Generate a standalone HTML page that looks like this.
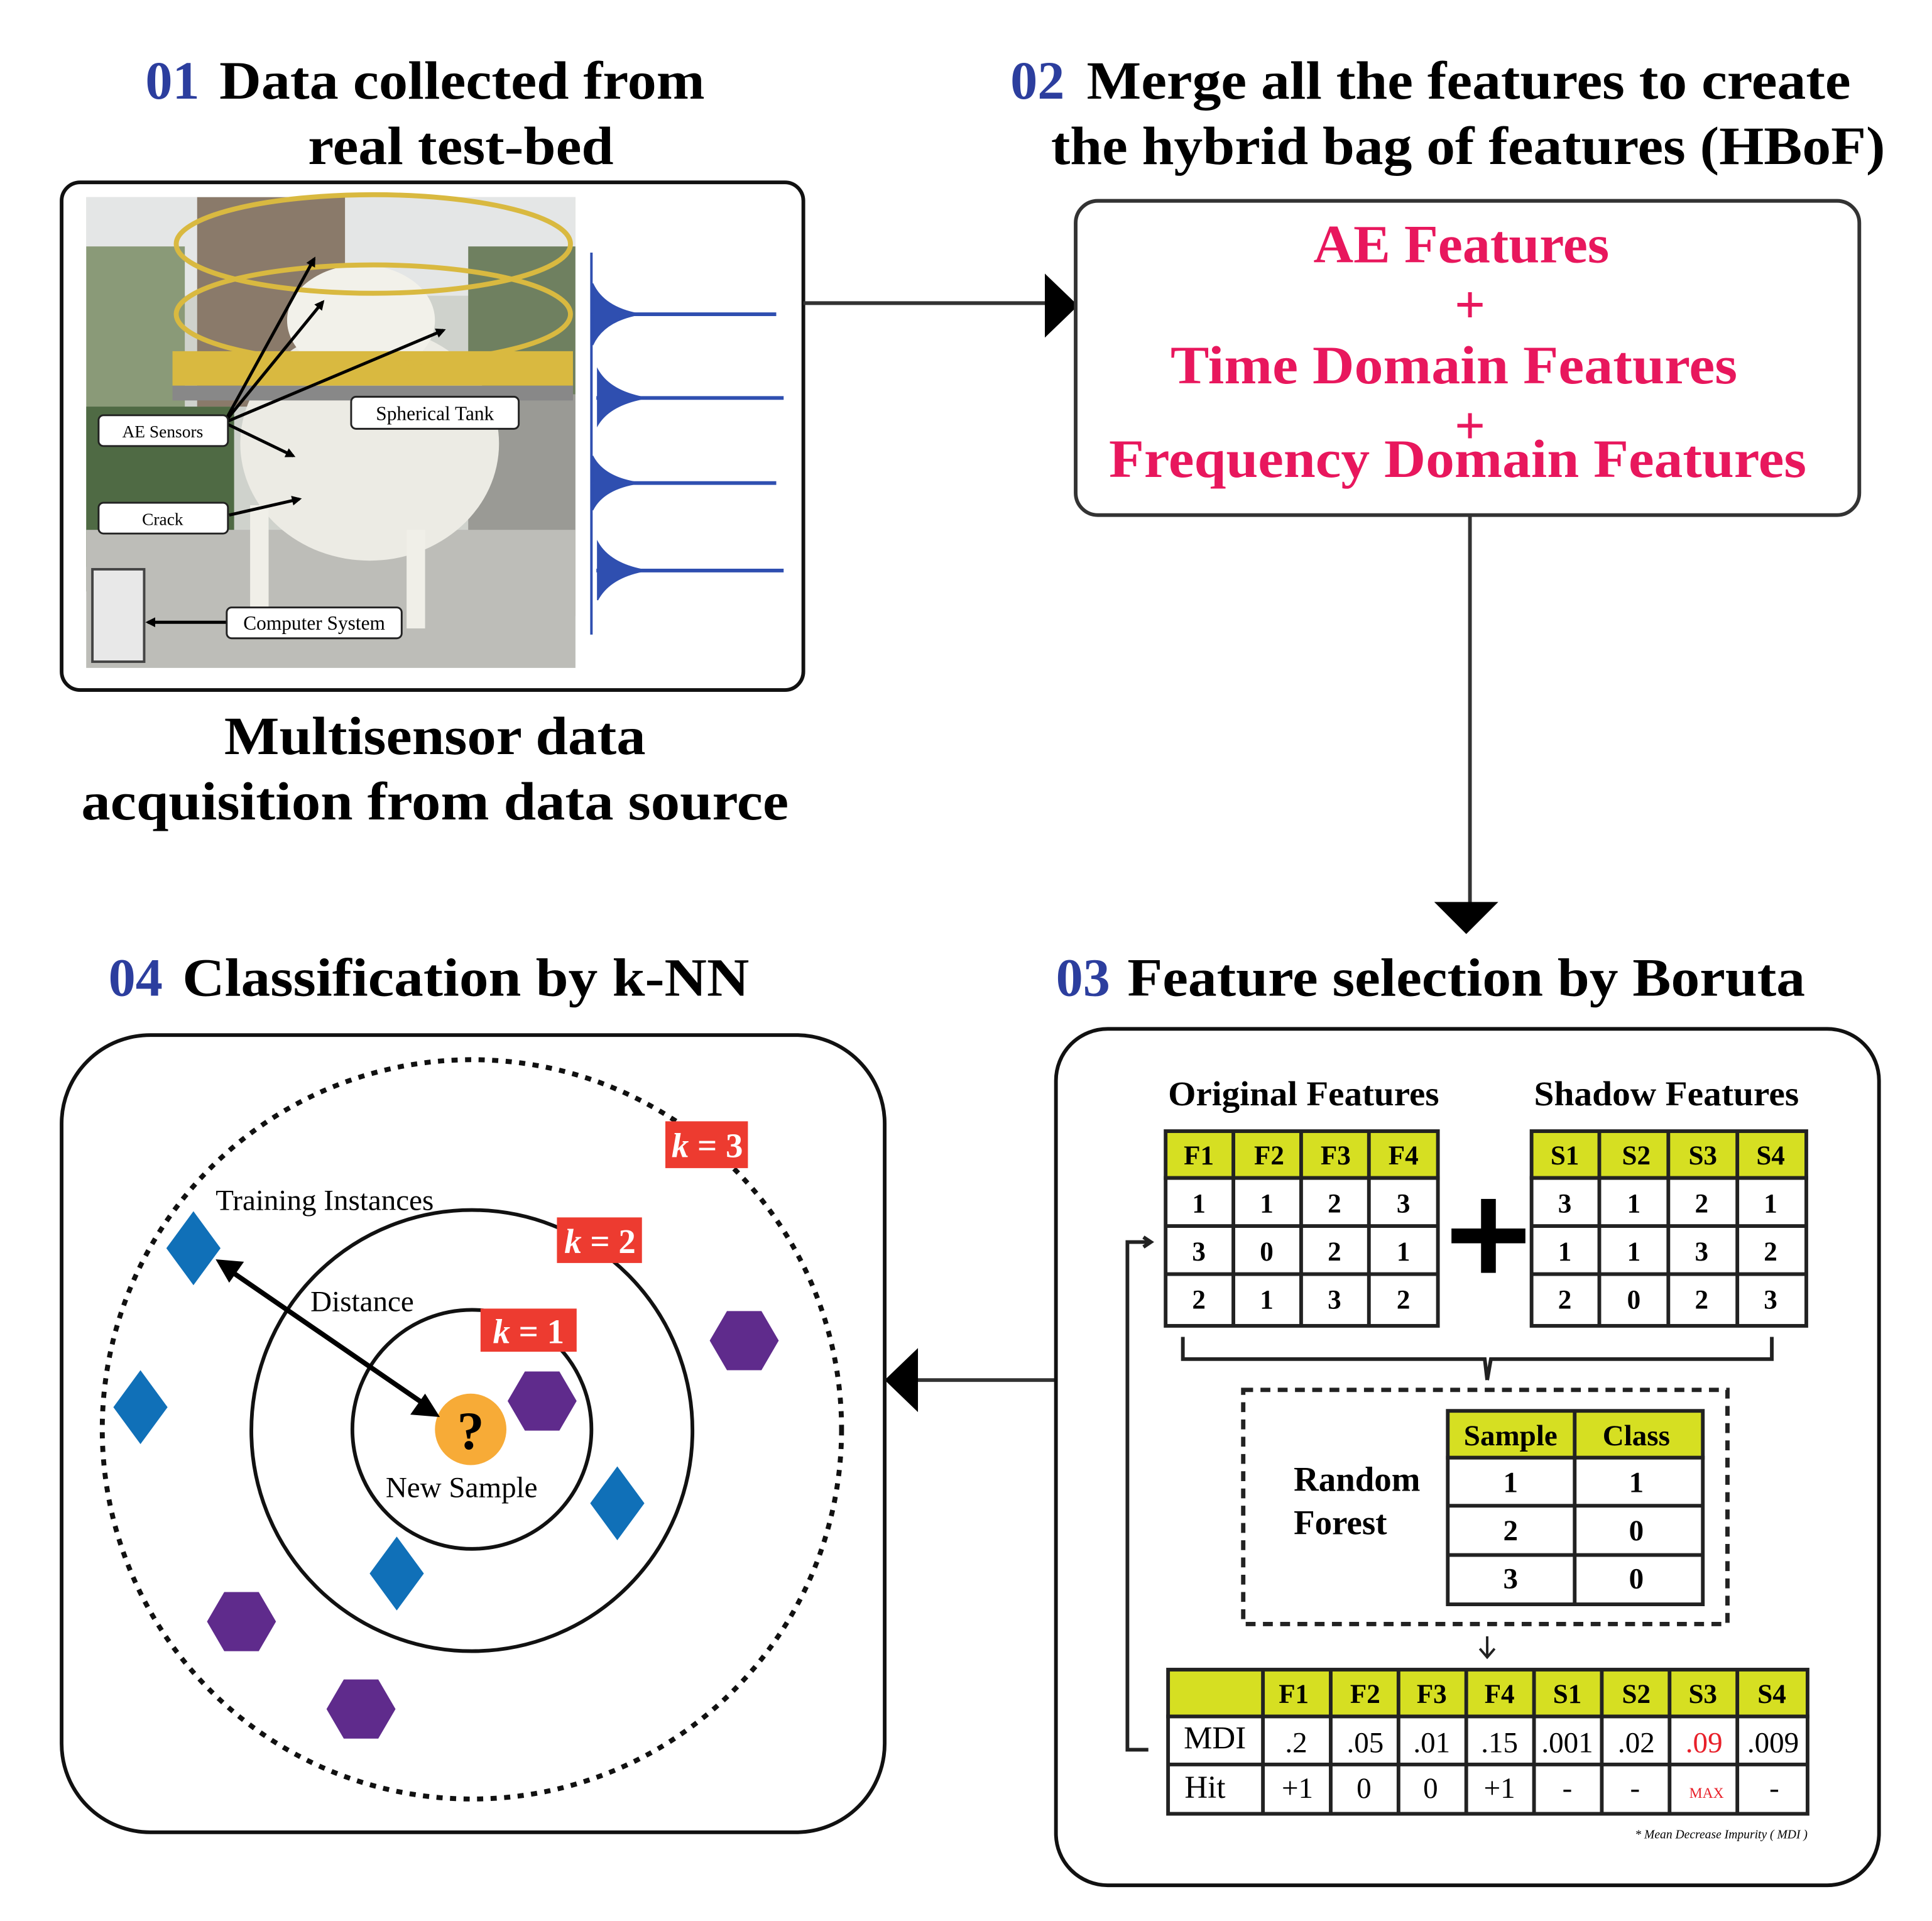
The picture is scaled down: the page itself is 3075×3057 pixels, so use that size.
<!DOCTYPE html>
<html><head><meta charset="utf-8"><style>
html,body{margin:0;padding:0;background:#fff;}
svg{display:block;}
text{font-family:"Liberation Serif",serif;}
</style></head><body>
<svg width="3075" height="3057" viewBox="0 0 1568 1559" preserveAspectRatio="none" xmlns="http://www.w3.org/2000/svg">
<defs><marker id="ah" markerWidth="8" markerHeight="8" refX="6" refY="4" orient="auto" markerUnits="userSpaceOnUse"><path d="M0,0 L8,4 L0,8 Z" fill="#000"/></marker></defs>
<rect width="1568" height="1559" fill="#fff"/>
<!-- Titles -->
<g font-weight="bold" font-size="44">
<text x="118" y="80" fill="#2c3e9e">01</text>
<text x="178" y="80" textLength="394" lengthAdjust="spacingAndGlyphs">Data collected from</text>
<text x="250" y="133" textLength="248" lengthAdjust="spacingAndGlyphs">real test-bed</text>
<text x="820" y="80" fill="#2c3e9e">02</text>
<text x="882" y="80" textLength="620" lengthAdjust="spacingAndGlyphs">Merge all the features to create</text>
<text x="853" y="133" textLength="677" lengthAdjust="spacingAndGlyphs">the hybrid bag of features (HBoF)</text>
<text x="182" y="612" textLength="342" lengthAdjust="spacingAndGlyphs">Multisensor data</text>
<text x="66" y="665" textLength="574" lengthAdjust="spacingAndGlyphs">acquisition from data source</text>
<text x="88" y="808" fill="#2c3e9e">04</text>
<text x="148" y="808" textLength="460" lengthAdjust="spacingAndGlyphs">Classification by k-NN</text>
<text x="857" y="808" fill="#2c3e9e">03</text>
<text x="915" y="808" textLength="550" lengthAdjust="spacingAndGlyphs">Feature selection by Boruta</text>
</g>
<!-- Box 1 -->
<rect x="50" y="148" width="602" height="412" rx="15" fill="#fff" stroke="#111" stroke-width="3"/>
<rect x="70" y="160" width="397" height="382" fill="#cfd2cc"/>
<rect x="70" y="160" width="397" height="80" fill="#e4e6e6"/>
<rect x="160" y="160" width="120" height="170" fill="#8a7a6a"/>
<rect x="70" y="200" width="80" height="260" fill="#8a9a78"/>
<rect x="70" y="330" width="120" height="150" fill="#4f6a44"/>
<rect x="380" y="200" width="87" height="120" fill="#6f8060"/>
<rect x="380" y="320" width="87" height="180" fill="#9a9a95"/>
<rect x="70" y="430" width="397" height="112" fill="#bdbdb8"/>
<ellipse cx="300" cy="360" rx="105" ry="95" fill="#ecebe4"/>
<ellipse cx="293" cy="260" rx="60" ry="45" fill="#f2f1ea"/>
<rect x="203" y="410" width="15" height="90" fill="#f0efe8"/>
<rect x="330" y="430" width="15" height="80" fill="#f0efe8"/>
<rect x="140" y="285" width="325" height="28" fill="#d9b940"/>
<rect x="140" y="313" width="325" height="12" fill="#888"/>
<ellipse cx="303" cy="198" rx="160" ry="40" fill="none" stroke="#d9b940" stroke-width="4"/>
<ellipse cx="303" cy="255" rx="160" ry="40" fill="none" stroke="#d9b940" stroke-width="4"/>
<rect x="75" y="462" width="42" height="75" fill="#e8e8e8" stroke="#444" stroke-width="2"/>
<g stroke="#000" stroke-width="2.5" fill="none" marker-end="url(#ah)">
<line x1="182" y1="343" x2="255" y2="210"/><line x1="182" y1="343" x2="262" y2="245"/>
<line x1="182" y1="343" x2="360" y2="268"/><line x1="182" y1="343" x2="238" y2="370"/>
<line x1="186" y1="418" x2="243" y2="405"/><line x1="184" y1="505" x2="120" y2="505"/>
</g>
<g font-size="14" text-anchor="middle">
<rect x="80" y="337" width="105" height="25" rx="4" fill="#fff" stroke="#222" stroke-width="1.5"/><text x="132" y="355">AE Sensors</text>
<rect x="285" y="322" width="136" height="26" rx="4" fill="#fff" stroke="#222" stroke-width="1.5"/><text x="353" y="341" font-size="16">Spherical Tank</text>
<rect x="80" y="408" width="105" height="25" rx="4" fill="#fff" stroke="#222" stroke-width="1.5"/><text x="132" y="426">Crack</text>
<rect x="184" y="493" width="142" height="25" rx="4" fill="#fff" stroke="#222" stroke-width="1.5"/><text x="255" y="511" font-size="16">Computer System</text>
</g>
<g stroke="#2f4fb0" fill="#2f4fb0">
<line x1="480" y1="205" x2="480" y2="515" stroke-width="2"/>
<line x1="480" y1="255" x2="630" y2="255" stroke-width="3"/>
<path d="M481 230 Q490 250 520 255 Q490 260 481 280 Z"/>
<line x1="484" y1="323" x2="636" y2="323" stroke-width="3"/>
<path d="M485 300 Q495 318 525 323 Q495 328 485 345 Z"/>
<line x1="480" y1="392" x2="630" y2="392" stroke-width="3"/>
<path d="M481 370 Q490 388 520 392 Q490 396 481 414 Z"/>
<line x1="484" y1="463" x2="636" y2="463" stroke-width="3"/>
<path d="M485 440 Q495 458 525 463 Q495 468 485 487 Z"/>
</g>
<line x1="652" y1="246" x2="850" y2="246" stroke="#333" stroke-width="3"/>
<polygon points="848,222 875,248 848,274" fill="#000"/>
<!-- Box 2 -->
<rect x="873" y="163" width="636" height="255" rx="18" fill="#fff" stroke="#333" stroke-width="3"/>
<g fill="#e8175d" font-weight="bold" font-size="44" text-anchor="middle">
<text x="1186" y="213" textLength="240" lengthAdjust="spacingAndGlyphs">AE Features</text>
<text x="1193" y="262">+</text>
<text x="1180" y="311" textLength="460" lengthAdjust="spacingAndGlyphs">Time Domain Features</text>
<text x="1193" y="360">+</text>
<text x="1183" y="387" textLength="566" lengthAdjust="spacingAndGlyphs">Frequency Domain Features</text>
</g>
<line x1="1193" y1="418" x2="1193" y2="735" stroke="#333" stroke-width="3"/>
<polygon points="1164,732 1216,732 1190,758" fill="#000"/>
<line x1="857" y1="1120" x2="740" y2="1120" stroke="#333" stroke-width="3"/>
<polygon points="745,1094 745,1146 718,1120" fill="#000"/>
<!-- Box 3 -->
<rect x="857" y="835" width="668" height="695" rx="42" fill="#fff" stroke="#111" stroke-width="3"/>
<g font-weight="bold" font-size="28">
<text x="948" y="897" textLength="220" lengthAdjust="spacingAndGlyphs">Original Features</text>
<text x="1245" y="897" textLength="215" lengthAdjust="spacingAndGlyphs">Shadow Features</text>
</g>
<g stroke="#222" stroke-width="3">
<rect x="946" y="918" width="221" height="38" fill="#d6df22"/>
<rect x="946" y="956" width="221" height="120" fill="#fff"/>
<rect x="1243" y="918" width="223" height="38" fill="#d6df22"/>
<rect x="1243" y="956" width="223" height="120" fill="#fff"/>
<line x1="1001" y1="918" x2="1001" y2="1076"/><line x1="1056" y1="918" x2="1056" y2="1076"/><line x1="1111" y1="918" x2="1111" y2="1076"/>
<line x1="1298" y1="918" x2="1298" y2="1076"/><line x1="1354" y1="918" x2="1354" y2="1076"/><line x1="1410" y1="918" x2="1410" y2="1076"/>
<line x1="946" y1="995" x2="1167" y2="995"/><line x1="946" y1="1034" x2="1167" y2="1034"/>
<line x1="1243" y1="995" x2="1466" y2="995"/><line x1="1243" y1="1034" x2="1466" y2="1034"/>
</g>
<g font-weight="bold" font-size="22" text-anchor="middle">
<text x="973" y="945">F1</text><text x="1030" y="945">F2</text><text x="1084" y="945">F3</text><text x="1139" y="945">F4</text>
<text x="973" y="984">1</text><text x="1028" y="984">1</text><text x="1083" y="984">2</text><text x="1139" y="984">3</text>
<text x="973" y="1023">3</text><text x="1028" y="1023">0</text><text x="1083" y="1023">2</text><text x="1139" y="1023">1</text>
<text x="973" y="1062">2</text><text x="1028" y="1062">1</text><text x="1083" y="1062">3</text><text x="1139" y="1062">2</text>
<text x="1270" y="945">S1</text><text x="1328" y="945">S2</text><text x="1382" y="945">S3</text><text x="1437" y="945">S4</text>
<text x="1270" y="984">3</text><text x="1326" y="984">1</text><text x="1381" y="984">2</text><text x="1437" y="984">1</text>
<text x="1270" y="1023">1</text><text x="1326" y="1023">1</text><text x="1381" y="1023">3</text><text x="1437" y="1023">2</text>
<text x="1270" y="1062">2</text><text x="1326" y="1062">0</text><text x="1381" y="1062">2</text><text x="1437" y="1062">3</text>
</g>
<rect x="1178" y="997" width="60" height="12" fill="#000"/>
<rect x="1202" y="973" width="12" height="60" fill="#000"/>
<path d="M960 1085 V1103 H1205 L1207 1120 M1207 1120 L1210 1103 H1438 V1085" fill="none" stroke="#222" stroke-width="3"/>
<rect x="1009" y="1128" width="393" height="190" fill="none" stroke="#222" stroke-width="3.5" stroke-dasharray="8,6"/>
<g font-weight="bold" font-size="28"><text x="1050" y="1210">Random</text><text x="1050" y="1245">Forest</text></g>
<g stroke="#222" stroke-width="3">
<rect x="1175" y="1145" width="207" height="38" fill="#d6df22"/>
<rect x="1175" y="1183" width="207" height="119" fill="#fff"/>
<line x1="1278" y1="1145" x2="1278" y2="1302"/>
<line x1="1175" y1="1222" x2="1382" y2="1222"/><line x1="1175" y1="1262" x2="1382" y2="1262"/>
</g>
<g font-weight="bold" font-size="24" text-anchor="middle">
<text x="1226" y="1173">Sample</text><text x="1328" y="1173">Class</text>
<text x="1226" y="1211">1</text><text x="1328" y="1211">1</text>
<text x="1226" y="1250">2</text><text x="1328" y="1250">0</text>
<text x="1226" y="1289">3</text><text x="1328" y="1289">0</text>
</g>
<path d="M1207 1328 V1345 M1201 1338 L1207 1345 L1213 1338" fill="none" stroke="#222" stroke-width="2"/>
<g stroke="#222" stroke-width="3">
<rect x="948" y="1355" width="519" height="38" fill="#d6df22"/>
<rect x="948" y="1393" width="519" height="79" fill="#fff"/>
<line x1="1025" y1="1355" x2="1025" y2="1472"/><line x1="1080" y1="1355" x2="1080" y2="1472"/><line x1="1135" y1="1355" x2="1135" y2="1472"/><line x1="1190" y1="1355" x2="1190" y2="1472"/><line x1="1245" y1="1355" x2="1245" y2="1472"/><line x1="1300" y1="1355" x2="1300" y2="1472"/><line x1="1355" y1="1355" x2="1355" y2="1472"/><line x1="1410" y1="1355" x2="1410" y2="1472"/>
<line x1="948" y1="1432" x2="1467" y2="1432"/>
</g>
<g font-weight="bold" font-size="22" text-anchor="middle">
<text x="1050" y="1382">F1</text><text x="1108" y="1382">F2</text><text x="1162" y="1382">F3</text><text x="1217" y="1382">F4</text><text x="1272" y="1382">S1</text><text x="1328" y="1382">S2</text><text x="1382" y="1382">S3</text><text x="1438" y="1382">S4</text>
</g>
<g font-size="24" text-anchor="middle">
<text x="986" y="1419" font-size="26">MDI</text><text x="1052" y="1422">.2</text><text x="1108" y="1422">.05</text><text x="1162" y="1422">.01</text><text x="1217" y="1422">.15</text><text x="1272" y="1422">.001</text><text x="1328" y="1422">.02</text><text x="1383" y="1422" fill="#e8202a">.09</text><text x="1439" y="1422">.009</text>
<text x="978" y="1459" font-size="26">Hit</text><text x="1053" y="1459">+1</text><text x="1107" y="1459">0</text><text x="1161" y="1459">0</text><text x="1217" y="1459">+1</text><text x="1272" y="1459">-</text><text x="1327" y="1459">-</text><text x="1385" y="1459" font-size="12" fill="#e8202a">MAX</text><text x="1440" y="1459">-</text>
</g>
<text x="1467" y="1492" font-size="10" font-style="italic" text-anchor="end">* Mean Decrease Impurity ( MDI )</text>
<path d="M932 1420 H915 V1008 H932 M928 1004 L934 1008 L928 1012" fill="none" stroke="#222" stroke-width="3"/>
<!-- Box 4 -->
<rect x="50" y="840" width="668" height="647" rx="72" fill="#fff" stroke="#111" stroke-width="3"/>
<circle cx="383" cy="1160" r="300" fill="none" stroke="#111" stroke-width="4" stroke-dasharray="5,6"/>
<circle cx="383" cy="1161" r="179" fill="none" stroke="#111" stroke-width="3"/>
<circle cx="383" cy="1160" r="97" fill="none" stroke="#111" stroke-width="3"/>
<g fill="#ed3b30"><rect x="540" y="910" width="67" height="38"/><rect x="452" y="988" width="69" height="37"/><rect x="390" y="1062" width="78" height="35"/></g>
<g fill="#fff" font-size="28" text-anchor="middle" font-weight="bold">
<text x="574" y="939"><tspan font-style="italic">k</tspan> = 3</text>
<text x="487" y="1017"><tspan font-style="italic">k</tspan> = 2</text>
<text x="429" y="1090"><tspan font-style="italic">k</tspan> = 1</text>
</g>
<g font-size="24">
<text x="175" y="982">Training Instances</text>
<text x="252" y="1064">Distance</text>
<text x="313" y="1215">New Sample</text>
</g>
<circle cx="382" cy="1160" r="29" fill="#f7ab37"/>
<text x="382" y="1176" font-size="44" font-weight="bold" text-anchor="middle">?</text>
<line x1="185" y1="1030" x2="345" y2="1140" stroke="#000" stroke-width="4"/>
<polygon points="175,1022 198,1024 186,1041" fill="#000"/>
<polygon points="357,1150 333,1148 345,1131" fill="#000"/>
<g fill="#1070b8">
<polygon points="157,983 179,1013 157,1043 135,1013"/>
<polygon points="114,1112 136,1142 114,1172 92,1142"/>
<polygon points="501,1190 523,1220 501,1250 479,1220"/>
<polygon points="322,1247 344,1277 322,1307 300,1277"/>
</g>
<g fill="#5f2b8c">
<polygon points="576,1088 590,1064 618,1064 632,1088 618,1112 590,1112"/>
<polygon points="412,1137 426,1113 454,1113 468,1137 454,1161 426,1161"/>
<polygon points="168,1316 182,1292 210,1292 224,1316 210,1340 182,1340"/>
<polygon points="265,1387 279,1363 307,1363 321,1387 307,1411 279,1411"/>
</g>
</svg>
</body></html>
